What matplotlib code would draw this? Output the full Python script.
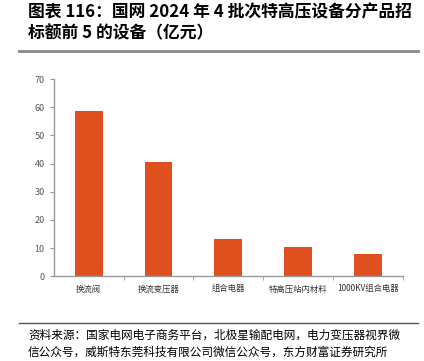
import matplotlib
matplotlib.use('Agg')
import matplotlib.pyplot as plt
from matplotlib.lines import Line2D

plt.rcParams['font.family'] = ['Noto Sans CJK SC', 'DejaVu Sans']

# 数据
categories = ['换流阀', '换流变压器', '组合电器', '特高压站内材料', '1000KV组合电器']
values = [58.6, 40.6, 13.2, 10.4, 7.9]

title_lines = ['图表 116：国网 2024 年 4 批次特高压设备分产品招', '标额前 5 的设备（亿元）']
source_lines = ['资料来源：国家电网电子商务平台，北极星输配电网，电力变压器视界微',
                '信公众号，威斯特东莞科技有限公司微信公众号，东方财富证券研究所']

fig = plt.figure(figsize=(4.24, 3.61), dpi=100)
ax = fig.add_axes([0.127, 0.235, 0.823, 0.546])

x = range(len(categories))
ax.bar(x, values, width=0.4, color='#E0501F')

ax.set_xlim(-0.5, len(categories) - 0.5)
ax.set_ylim(0, 70)
ax.set_yticks(range(0, 71, 10))
ax.set_xticks(list(x))
ax.set_xticklabels(categories, fontsize=6, color='#333333')
ax.set_xticks([i + 0.5 for i in range(len(categories))], minor=True)
ax.tick_params(axis='x', which='major', length=0, pad=6)
ax.tick_params(axis='x', which='minor', length=3, color='#999999', direction='out')
ax.tick_params(axis='y', labelsize=6.5, labelcolor='#555555', length=3, color='#999999')

for s in ['top', 'right']:
    ax.spines[s].set_visible(False)
for s in ['left', 'bottom']:
    ax.spines[s].set_color('#999999')
    ax.spines[s].set_linewidth(1)

# 标题
fig.text(0.066, 0.99, title_lines[0], fontsize=12.1, fontweight='bold', va='top', ha='left')
fig.text(0.066, 0.933, title_lines[1], fontsize=12.1, fontweight='bold', va='top', ha='left')
fig.add_artist(Line2D([0.045, 0.985], [0.858, 0.858], color='#888888', lw=2, transform=fig.transFigure))

# 资料来源
fig.add_artist(Line2D([0.045, 0.985], [0.105, 0.105], color='#555555', lw=1, transform=fig.transFigure))
fig.text(0.066, 0.072, source_lines[0], fontsize=8.4, va='center', ha='left')
fig.text(0.066, 0.025, source_lines[1], fontsize=8.4, va='center', ha='left')

plt.savefig('out.png', dpi=100)
plt.close()
